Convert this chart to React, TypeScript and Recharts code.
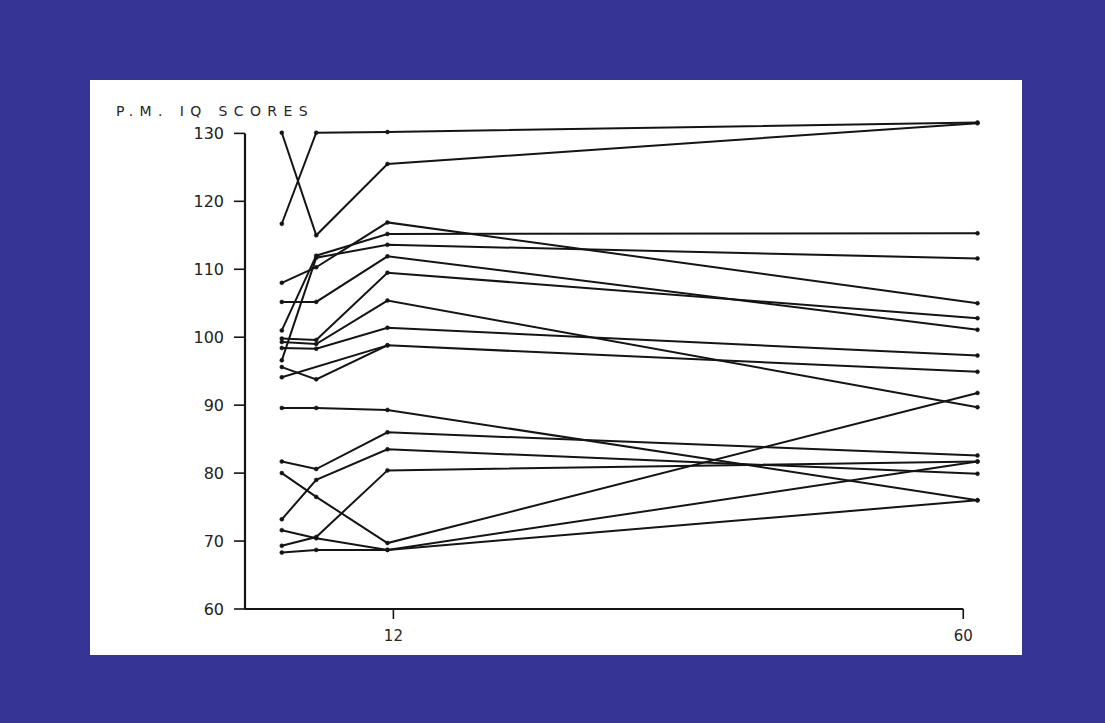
import React from 'react';
import { LineChart, Line, XAxis, YAxis, ReferenceLine } from 'recharts';

// test ages in months (columns of points)
const ages = [2.6, 5.5, 11.5, 61.2];

// one array per child: score at each of the four ages (null = no point)
const child01 = [130.1, 115.0, 125.5, 131.5];
const child02 = [116.7, 130.1, 130.2, 131.6];
const child03 = [108.0, 110.3, 116.9, 105.0];
const child04 = [101.0, 112.0, 115.2, 115.3];
const child05 = [96.6, 111.7, 113.6, 111.6];
const child06 = [105.2, 105.2, 111.9, 101.1];
const child07 = [99.8, 99.6, 109.5, 102.8];
const child08 = [99.3, 99.0, 105.4, 89.7];
const child09 = [98.4, 98.3, 101.4, 97.3];
const child10 = [95.6, 93.8, 98.8, 94.9];
const child11 = [94.1, null, 98.8, null];
const child12 = [89.6, 89.6, 89.3, 76.0];
const child13 = [81.7, 80.6, 86.0, 82.6];
const child14 = [80.0, 76.5, 69.7, 91.8];
const child15 = [73.2, 79.0, 83.5, 79.9];
const child16 = [71.6, 70.4, 68.7, 81.7];
const child17 = [69.3, 70.6, 80.4, 81.7];
const child18 = [68.3, 68.7, 68.7, 76.0];

const yTicks = [60, 70, 80, 90, 100, 110, 120, 130];
const xTicks = [12, 60];
const title = 'P.M. IQ SCORES';

const children: (number | null)[][] = [
  child01, child02, child03, child04, child05, child06, child07, child08, child09,
  child10, child11, child12, child13, child14, child15, child16, child17, child18,
];

const data = ages.map((age, i) => {
  const row: Record<string, number | null> = { age };
  children.forEach((c, k) => {
    row[`c${k + 1}`] = c[i];
  });
  return row;
});

const ink = '#141414';
const font = 'DejaVu Sans';

export default function App() {
  return (
    <div style={{ position: 'absolute', left: 0, top: 0, width: 1105, height: 723, background: '#363596', overflow: 'hidden' }}>
      <div style={{ position: 'absolute', left: 90, top: 80, width: 932, height: 575, background: '#ffffff' }} />
      <div
        style={{
          position: 'absolute',
          left: 116,
          top: 103,
          fontFamily: font,
          fontSize: 14,
          letterSpacing: 6.4,
          color: '#262626',
          whiteSpace: 'nowrap',
        }}
      >
        {title}
      </div>
      <div style={{ position: 'absolute', left: 0, top: 0 }}>
        <LineChart width={1105} height={723} data={data} margin={{ top: 113, right: 118, bottom: 84, left: 185 }}>
          <XAxis
            type="number"
            dataKey="age"
            domain={[-0.5, 62]}
            ticks={xTicks}
            axisLine={false}
            tickSize={10}
            tickMargin={11}
            height={30}
            tickLine={{ stroke: ink, strokeWidth: 1.6 }}
            tick={{ fill: '#262626', fontSize: 15, fontFamily: font }}
          />
          <YAxis
            type="number"
            domain={[60, 133]}
            ticks={yTicks}
            axisLine={false}
            width={60}
            tickSize={11}
            tickMargin={10}
            tickLine={{ stroke: ink, strokeWidth: 1.6 }}
            tick={{ fill: '#222', fontSize: 16, fontFamily: font }}
          />
          <ReferenceLine segment={[{ x: -0.5, y: 60 }, { x: -0.5, y: 130 }]} stroke={ink} strokeWidth={2.2} />
          <ReferenceLine segment={[{ x: -0.5, y: 60 }, { x: 60, y: 60 }]} stroke={ink} strokeWidth={2} />
          {children.map((_, k) => (
            <Line
              key={k}
              dataKey={`c${k + 1}`}
              stroke={ink}
              strokeWidth={2}
              dot={{ r: 2, fill: ink, stroke: ink, strokeWidth: 0.5 }}
              connectNulls
              isAnimationActive={false}
            />
          ))}
        </LineChart>
      </div>
    </div>
  );
}
